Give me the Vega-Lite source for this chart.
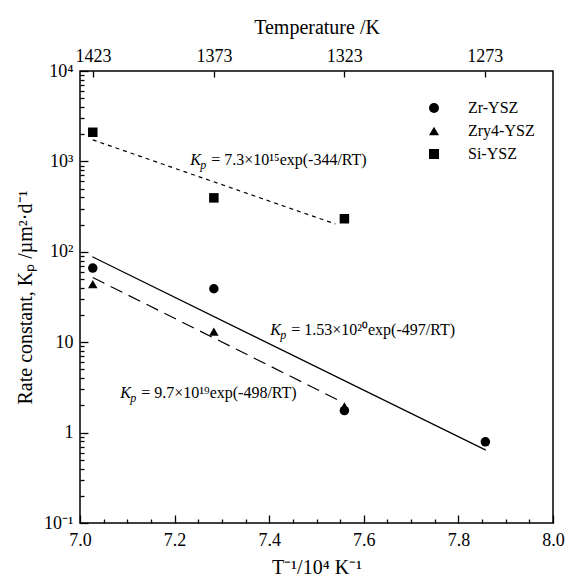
{
  "$schema": "https://vega.github.io/schema/vega-lite/v6.json",
  "width": 473,
  "height": 452,
  "autosize": {"type": "none"},
  "padding": {"left": 80, "top": 71, "right": 17, "bottom": 57},
  "background": "white",
  "config": {
    "font": "Liberation Serif",
    "view": {"stroke": "black", "strokeWidth": 1.5},
    "axis": {"grid": false, "domain": false, "labelColor": "black", "tickColor": "black", "titleColor": "black", "labelFont": "Liberation Serif", "titleFont": "Liberation Serif", "labelFontSize": 18, "titleFontSize": 20, "titleFontWeight": "normal", "tickWidth": 1.3, "labelFlush": false, "labelOverlap": false}
  },
  "datasets": {
    "points": [
      {"series": "Zr-YSZ", "invT": 7.027, "kp": 66},
      {"series": "Zr-YSZ", "invT": 7.283, "kp": 39},
      {"series": "Zr-YSZ", "invT": 7.559, "kp": 1.75},
      {"series": "Zr-YSZ", "invT": 7.857, "kp": 0.79},
      {"series": "Zry4-YSZ", "invT": 7.027, "kp": 44},
      {"series": "Zry4-YSZ", "invT": 7.283, "kp": 13.1},
      {"series": "Zry4-YSZ", "invT": 7.559, "kp": 1.95},
      {"series": "Si-YSZ", "invT": 7.027, "kp": 2100},
      {"series": "Si-YSZ", "invT": 7.283, "kp": 395},
      {"series": "Si-YSZ", "invT": 7.559, "kp": 232}
    ],
    "fits": [
      {"fit": "Zr-YSZ", "invT": 7.026, "kp": 88},
      {"fit": "Zr-YSZ", "invT": 7.858, "kp": 0.64},
      {"fit": "Zry4-YSZ", "invT": 7.027, "kp": 52},
      {"fit": "Zry4-YSZ", "invT": 7.545, "kp": 2.3},
      {"fit": "Si-YSZ", "invT": 7.027, "kp": 1730},
      {"fit": "Si-YSZ", "invT": 7.54, "kp": 203}
    ],
    "notes": [
      {"k": "K", "p": "p", "rest": "= 7.3×10¹⁵exp(-344/RT)", "invT": 7.233, "kp": 1035},
      {"k": "K", "p": "p", "rest": "= 1.53×10²⁰exp(-497/RT)", "invT": 7.402, "kp": 13.6},
      {"k": "K", "p": "p", "rest": "= 9.7×10¹⁹exp(-498/RT)", "invT": 7.085, "kp": 2.74}
    ]
  },
  "layer": [
    {
      "data": {"name": "fits"},
      "transform": [{"filter": {"field": "fit", "equal": "Zr-YSZ"}}],
      "mark": {"type": "line", "color": "black", "strokeWidth": 1.2},
      "encoding": {
        "x": {"field": "invT", "type": "quantitative", "scale": {"domain": [7, 8], "nice": false, "zero": false},
              "axis": {"orient": "bottom", "values": [7.0, 7.2, 7.4, 7.6, 7.8, 8.0], "format": ".1f", "tickSize": -8, "labelPadding": 16, "title": "T⁻¹/10⁴ K⁻¹", "titlePadding": 8}},
        "y": {"field": "kp", "type": "quantitative", "scale": {"type": "log", "domain": [0.1, 10000], "nice": false},
              "axis": {"orient": "left", "values": [0.1, 1, 10, 100, 1000, 10000], "labelExpr": "datum.value >= 9999 ? '10⁴' : datum.value >= 999 ? '10³' : datum.value >= 99 ? '10²' : datum.value >= 9 ? '10' : datum.value >= 0.9 ? '1' : '10⁻¹'", "tickSize": -8, "labelPadding": 15, "title": "Rate constant, Kₚ /µm²·d⁻¹", "titlePadding": 8}}
      }
    },
    {
      "data": {"name": "fits"},
      "transform": [{"filter": {"field": "fit", "equal": "Zry4-YSZ"}}],
      "mark": {"type": "line", "color": "black", "strokeWidth": 1.2, "strokeDash": [13, 7]},
      "encoding": {
        "x": {"field": "invT", "type": "quantitative", "axis": null},
        "y": {"field": "kp", "type": "quantitative", "axis": null}
      }
    },
    {
      "data": {"name": "fits"},
      "transform": [{"filter": {"field": "fit", "equal": "Si-YSZ"}}],
      "mark": {"type": "line", "color": "black", "strokeWidth": 1.2, "strokeDash": [4, 4]},
      "encoding": {
        "x": {"field": "invT", "type": "quantitative", "axis": null},
        "y": {"field": "kp", "type": "quantitative", "axis": null}
      }
    },
    {
      "data": {"name": "points"},
      "mark": {"type": "point", "filled": true, "color": "black", "size": 90, "opacity": 1},
      "encoding": {
        "x": {"field": "invT", "type": "quantitative", "scale": {"domain": [7, 8], "nice": false, "zero": false},
              "axis": {"orient": "bottom", "values": [7.05, 7.1, 7.15, 7.25, 7.3, 7.35, 7.45, 7.5, 7.55, 7.65, 7.7, 7.75, 7.85, 7.9, 7.95], "labels": false, "tickSize": -4, "title": null}},
        "y": {"field": "kp", "type": "quantitative", "scale": {"type": "log", "domain": [0.1, 10000], "nice": false},
              "axis": {"orient": "left", "values": [0.2, 0.3, 0.4, 0.5, 0.6, 0.7, 0.8, 0.9, 2, 3, 4, 5, 6, 7, 8, 9, 20, 30, 40, 50, 60, 70, 80, 90, 200, 300, 400, 500, 600, 700, 800, 900, 2000, 3000, 4000, 5000, 6000, 7000, 8000, 9000], "labels": false, "tickSize": -4, "title": null}},
        "shape": {"field": "series", "type": "nominal", "scale": {"domain": ["Zr-YSZ", "Zry4-YSZ", "Si-YSZ"], "range": ["circle", "triangle-up", "square"]},
                  "legend": {"title": null, "orient": "none", "legendX": 346, "legendY": 29, "padding": 0, "symbolSize": 100, "labelFontSize": 16, "labelFont": "Liberation Serif", "labelColor": "black", "rowPadding": 7, "labelOffset": 26, "symbolStrokeWidth": 1.2, "symbolFillColor": "black", "symbolStrokeColor": "black"}}
      }
    },
    {
      "data": {"name": "notes"},
      "mark": {"type": "text", "align": "left", "baseline": "middle", "fontSize": 16, "font": "Liberation Serif", "fontStyle": "italic", "color": "black"},
      "encoding": {
        "x": {"field": "invT", "type": "quantitative", "scale": {"domain": [7, 8], "nice": false, "zero": false},
              "axis": {"orient": "top", "values": [7.02741, 7.28332, 7.55858, 7.85546], "labelExpr": "format(10000 / datum.value, '.0f')", "tickSize": -6, "labelPadding": 12, "title": "Temperature /K", "titlePadding": 10}},
        "y": {"field": "kp", "type": "quantitative", "axis": null},
        "text": {"field": "k"}
      }
    },
    {
      "data": {"name": "notes"},
      "mark": {"type": "text", "align": "left", "baseline": "middle", "fontSize": 12, "font": "Liberation Serif", "fontStyle": "italic", "color": "black", "dx": 10, "dy": 5},
      "encoding": {
        "x": {"field": "invT", "type": "quantitative", "axis": null},
        "y": {"field": "kp", "type": "quantitative", "axis": null},
        "text": {"field": "p"}
      }
    },
    {
      "data": {"name": "notes"},
      "mark": {"type": "text", "align": "left", "baseline": "middle", "fontSize": 16, "font": "Liberation Serif", "color": "black", "dx": 21},
      "encoding": {
        "x": {"field": "invT", "type": "quantitative", "axis": null},
        "y": {"field": "kp", "type": "quantitative", "axis": null},
        "text": {"field": "rest"}
      }
    }
  ],
  "resolve": {"axis": {"x": "independent", "y": "independent"}}
}
